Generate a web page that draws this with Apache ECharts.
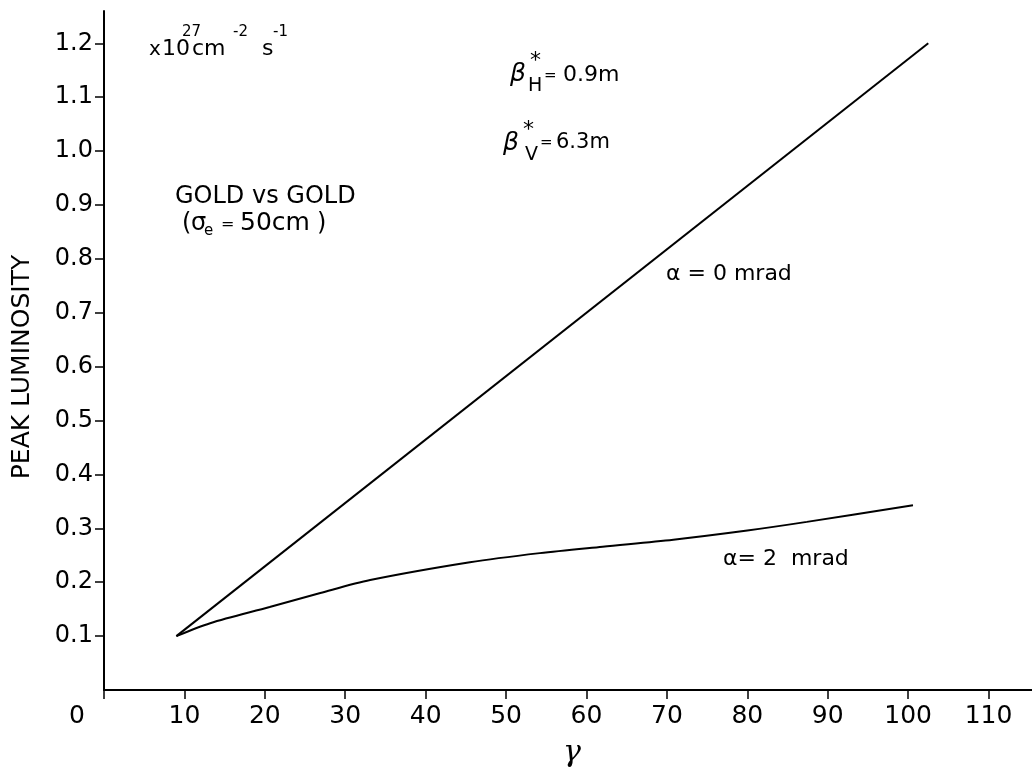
<!DOCTYPE html>
<html>
<head>
<meta charset="utf-8">
<script src="https://cdn.jsdelivr.net/npm/echarts@6/dist/echarts.min.js"></script>
<style>
html,body{margin:0;padding:0;background:#fff;}
#chart{width:1032px;height:775px;}
</style>
</head>
<body>
<div id="chart"></div>
<script>
// ---- data ----
var gammaA0 = [9, 102.5];
var lumA0 = [0.1, 1.2];
var gammaA2 = [9, 13.2, 20.6, 26.9, 33.1, 45.5, 54.2, 62, 70.8, 80, 87.4, 100.6];
var lumA2 = [0.1, 0.124, 0.154, 0.18, 0.204, 0.237, 0.254, 0.266, 0.279, 0.296, 0.312, 0.343];
var xLabelValues = [0, 10, 20, 30, 40, 50, 60, 70, 80, 90, 100, 110];
var yTickValues = [0.1, 0.2, 0.3, 0.4, 0.5, 0.6, 0.7, 0.8, 0.9, 1.0, 1.1, 1.2];
var seriesNames = ['α = 0 mrad', 'α = 2 mrad'];

function pairs(xs, ys) { return xs.map(function (x, i) { return [x, ys[i]]; }); }

var FONT = 'DejaVu Sans';
function T(text, x, baseline, fs, extra) {
  extra = extra || {};
  return {
    type: 'text', silent: true,
    style: {
      text: text, x: x, y: baseline - 0.35 * fs,
      font: (extra.style || '') + ' ' + fs + 'px "' + (extra.family || FONT) + '"',
      fill: '#000', align: extra.align || 'left', verticalAlign: 'middle'
    }
  };
}

var chart = echarts.init(document.getElementById('chart'));
var option = {
  backgroundColor: '#fff',
  animation: false,
  grid: { left: 104, right: 0, top: 11, bottom: 85, containLabel: false },
  xAxis: {
    type: 'value', min: 0, max: 115.4, interval: 10,
    name: 'γ', nameLocation: 'middle', nameGap: 63,
    nameTextStyle: { fontFamily: 'DejaVu Serif', fontStyle: 'italic', fontSize: 30, color: '#000', verticalAlign: 'middle', padding: [0, 0, 0, 8] },
    axisLine: { show: true, lineStyle: { color: '#000', width: 2 } },
    axisTick: { show: true, length: 9, lineStyle: { color: '#000', width: 1.5 }, customValues: xLabelValues },
    axisLabel: {
      customValues: xLabelValues, margin: 14, fontFamily: FONT, fontSize: 25, color: '#000',
      formatter: function (v) { return v === 0 ? '{o|0}' : String(v); },
      rich: { o: { fontFamily: FONT, fontSize: 25, color: '#000', padding: [0, 54, 0, 0] } }
    },
    splitLine: { show: false }
  },
  yAxis: {
    type: 'value', min: 0, max: 1.26, interval: 0.1,
    axisLine: { show: true, onZero: false, lineStyle: { color: '#000', width: 2 } },
    axisTick: { show: true, length: 9, lineStyle: { color: '#000', width: 1.5 }, customValues: yTickValues },
    axisLabel: {
      customValues: yTickValues, margin: 11, fontFamily: FONT, fontSize: 24, color: '#000',
      formatter: function (v) { return v.toFixed(1); }
    },
    splitLine: { show: false }
  },
  series: [
    {
      name: seriesNames[0], type: 'line', data: pairs(gammaA0, lumA0),
      showSymbol: false, lineStyle: { color: '#000', width: 2 }
    },
    {
      name: seriesNames[1], type: 'line', data: pairs(gammaA2, lumA2), smooth: 0.3,
      showSymbol: false, lineStyle: { color: '#000', width: 2 }
    }
  ],
  graphic: [
    // y-axis title
    {
      type: 'text', silent: true, x: 22, y: 367, rotation: Math.PI / 2,
      style: { text: 'PEAK LUMINOSITY', x: 0, y: 0, align: 'center', verticalAlign: 'middle',
        font: '25px "' + FONT + '"', fill: '#000' }
    },
    // units
    T('x', 149, 57, 20),
    T('10', 162, 57, 22),
    T('27', 182, 37, 15),
    T('cm', 192, 57, 22),
    T('-2', 233, 37, 15),
    T('s', 262, 57, 22),
    T('-1', 273, 37, 15),
    // gold vs gold
    T('GOLD vs GOLD', 175, 205, 24),
    T('(', 182, 232, 24),
    T('σ', 191, 232, 24),
    T('e', 204, 236, 15),
    T('=', 221, 230, 16),
    T('50cm', 240, 232, 25),
    T(')', 317, 232, 24),
    // beta H
    T('β', 510, 83, 25, { style: 'italic' }),
    T('*', 530, 69, 22),
    T('H', 528, 93, 19),
    T('=', 544, 81, 15),
    T('0.9m', 563, 83, 22),
    // beta V
    T('β', 503, 152, 25, { style: 'italic' }),
    T('*', 523, 138, 22),
    T('V', 525, 162, 19),
    T('=', 540, 148, 15),
    T('6.3m', 556, 150, 21),
    // curve labels
    T('α = 0 mrad', 666, 282, 22),
    T('α= 2  mrad', 723, 567, 22)
  ]
};
chart.setOption(option);
</script>
</body>
</html>
